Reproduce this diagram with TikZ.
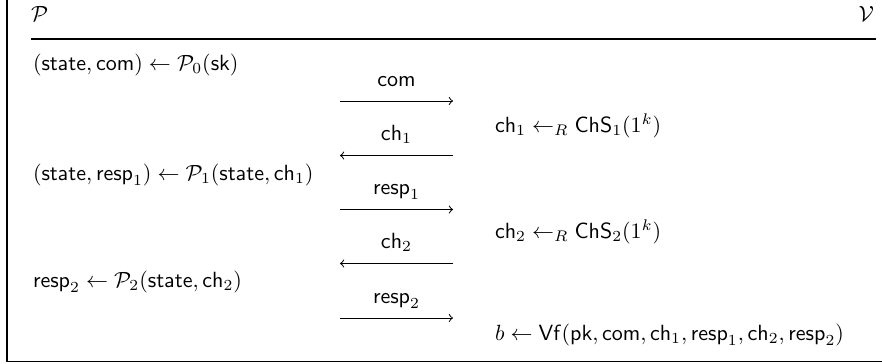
\documentclass[tikz,border=0pt]{standalone}
\usepackage{amsmath}
\begin{document}
\begin{tikzpicture}[x=0.4545pt,y=-0.4545pt,
  txt/.style={inner sep=0pt,outer sep=0pt,anchor=base west},
  lbl/.style={inner sep=0pt,outer sep=0pt,anchor=base},
  msg/.style={line width=0.45pt,->},
  frame/.style={line width=0.8pt},
  hrule/.style={line width=0.5pt}]
\useasboundingbox (0,0) rectangle (882,363);
% frame
\coordinate (ftop) at (7,0);
\coordinate (fcorner) at (7,361.5);
\coordinate (fright) at (882,361.5);
\draw[frame] (ftop) -- (fcorner) -- (fright);
% header
\node[txt] (P) at (31,21) {$\mathcal{P}$};
\node[inner sep=0pt,outer sep=0pt,anchor=base east] (V) at (874,21) {$\mathcal{V}$};
\coordinate (rl) at (31,39);
\coordinate (rr) at (876,39);
\draw[hrule] (rl) -- (rr);
% prover steps
\node[txt] (p0) at (33,70) {$(\mathsf{state},\mathsf{com})\leftarrow\mathcal{P}_0(\mathsf{sk})$};
\node[txt] (p1) at (33,180) {$(\mathsf{state},\mathsf{resp}_1)\leftarrow\mathcal{P}_1(\mathsf{state},\mathsf{ch}_1)$};
\node[txt] (p2) at (33,287) {$\mathsf{resp}_2\leftarrow\mathcal{P}_2(\mathsf{state},\mathsf{ch}_2)$};
% verifier steps
\node[txt] (v1) at (495,132) {$\mathsf{ch}_1\leftarrow_R\mathsf{ChS}_1(1^k)$};
\node[txt] (v2) at (495,238) {$\mathsf{ch}_2\leftarrow_R\mathsf{ChS}_2(1^k)$};
\node[txt] (v3) at (495,340) {$b\leftarrow\mathsf{Vf}(\mathsf{pk},\mathsf{com},\mathsf{ch}_1,\mathsf{resp}_1,\mathsf{ch}_2,\mathsf{resp}_2)$};
% messages
\coordinate (m1l) at (340,101);   \coordinate (m1r) at (453,101);
\coordinate (m2l) at (340,155.5); \coordinate (m2r) at (453,155.5);
\coordinate (m3l) at (340,209.5); \coordinate (m3r) at (453,209.5);
\coordinate (m4l) at (340,263.5); \coordinate (m4r) at (453,263.5);
\coordinate (m5l) at (340,318);   \coordinate (m5r) at (453,318);
\draw[msg] (m1l) -- (m1r);
\draw[msg] (m2r) -- (m2l);
\draw[msg] (m3l) -- (m3r);
\draw[msg] (m4r) -- (m4l);
\draw[msg] (m5l) -- (m5r);
\node[lbl] (l1) at (396.5,86) {$\mathsf{com}$};
\node[lbl] (l2) at (396.5,140.5) {$\mathsf{ch}_1$};
\node[lbl] (l3) at (396.5,194.5) {$\mathsf{resp}_1$};
\node[lbl] (l4) at (396.5,248.5) {$\mathsf{ch}_2$};
\node[lbl] (l5) at (396.5,303) {$\mathsf{resp}_2$};
\end{tikzpicture}
\end{document}
